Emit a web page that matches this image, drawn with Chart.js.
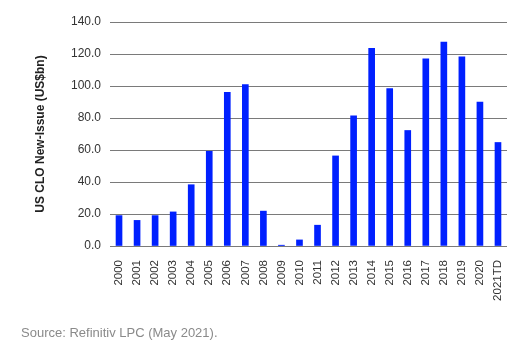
<!DOCTYPE html>
<html>
<head>
<meta charset="utf-8">
<script src="https://cdn.jsdelivr.net/npm/chart.js@4.4.0/dist/chart.umd.min.js"></script>
<style>
  body { margin: 0; background: #fff; }
  #wrap { position: absolute; left: 0; top: 0; width: 530px; height: 349px; }
  #source { position: absolute; left: 21px; top: 325px; font: 13px "Liberation Sans", Arial, sans-serif; color: #8a8a8a; }
</style>
</head>
<body>
<div id="wrap"><canvas id="chart"></canvas></div>
<div id="source">Source: Refinitiv LPC (May 2021).</div>
<script>
const years = ['2000', '2001', '2002', '2003', '2004', '2005', '2006', '2007', '2008', '2009', '2010',
  '2011', '2012', '2013', '2014', '2015', '2016', '2017', '2018', '2019', '2020', '2021TD'];
const issuance = [19, 16, 19, 21.3, 38.3, 59.2, 96, 100.9, 21.8, 0.5, 3.8,
  13, 56.3, 81.4, 123.5, 98.4, 72.2, 117, 127.4, 118.2, 90, 64.7];
const yTicks = [0, 20, 40, 60, 80, 100, 120, 140];

const font = '"Liberation Sans", Arial, sans-serif';

let ctx = document.getElementById('chart').getContext('2d');
let chartObject = new Chart(ctx, {
    type: 'bar',
    data: {
        labels: years,
        datasets: [{
            data: issuance,
            backgroundColor: '#0020ff',
            barThickness: 6
        }]
    },
    options: {
        responsive: true,
        maintainAspectRatio: false,
        animation: false,
        layout: { padding: { left: 29, right: 23, top: 22, bottom: 43 } },
        plugins: { legend: { display: false }, tooltip: { enabled: false } },
        scales: {
            x: {
                grid: { display: false },
                border: { display: false },
                afterFit: axis => { axis.height = 60; },
                ticks: {
                    minRotation: 90, maxRotation: 90, padding: 6,
                    color: '#333', font: { family: font, size: 11.5 }
                }
            },
            y: {
                min: 0, max: 140,
                afterFit: axis => { axis.width = 81; },
                afterBuildTicks: axis => { axis.ticks = yTicks.map(v => ({ value: v })); },
                border: { display: false },
                grid: { color: '#7a7a7a', drawTicks: false },
                ticks: {
                    padding: 9, color: '#333', font: { family: font, size: 12 },
                    callback: v => v.toFixed(1)
                },
                title: {
                    display: true, text: 'US CLO New-Issue (US$bn)', color: '#222',
                    font: { family: font, size: 12, weight: 'bold' }
                }
            }
        }
    }
});
</script>
</body>
</html>
